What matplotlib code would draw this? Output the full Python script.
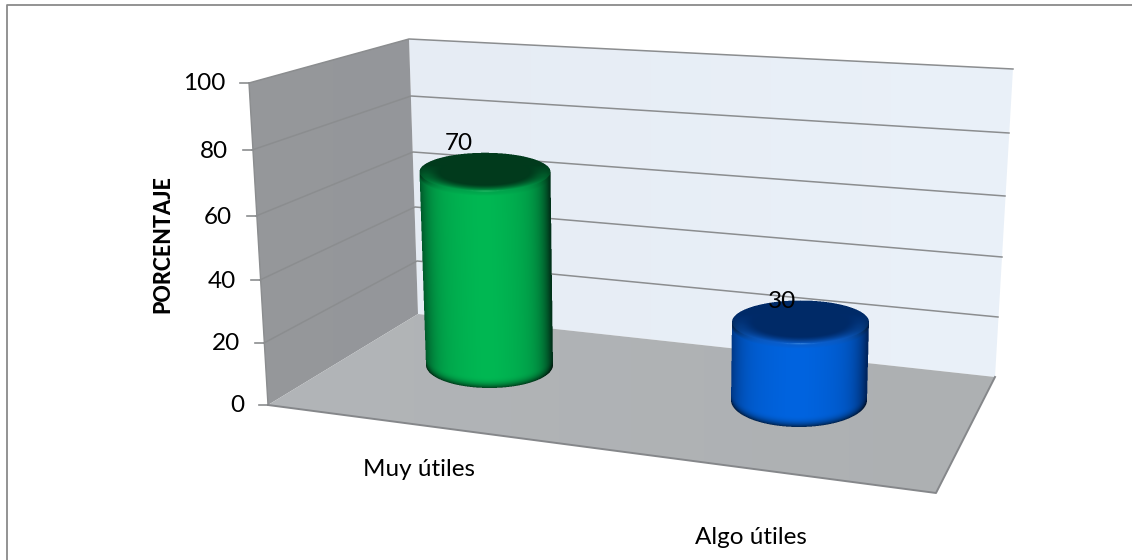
import numpy as np
import matplotlib
matplotlib.use("Agg")
import matplotlib.pyplot as plt
from matplotlib.colors import LinearSegmentedColormap, to_rgb
from matplotlib.patches import Polygon

# ---- data
categories = ["Muy útiles", "Algo útiles"]
values = [70, 30]
axis_ticks = [0, 20, 40, 60, 80, 100]
y_title = "PORCENTAJE"

# ---- calibration of the oblique 3-D frame (pixels)
front_x = [268, 264, 260, 256, 252, 249]
front_y = [405, 343, 280, 216, 150, 83]
back_x = [418, 417, 415, 413, 411, 409]
back_y = [314, 261, 207, 152, 96, 39]
right_x = [995, 998, 1002, 1005, 1009, 1013]
right_y = [377, 317, 257, 196, 133, 69]
corner = (936, 493)

styles = [
    dict(cx_top=485, a_top=65.5, b_top=19, cx_base=489.5, a_base=63.5, b_base=23, base=365, scale=2.76,
         mid="#00b853", edge="#00331a", top="#013a1c", rim="#00a04a", hl="#6fe59c", lab=(-26, -28)),
    dict(cx_top=800.5, a_top=68.5, b_top=21.5, cx_base=799, a_base=68, b_base=27, base=400, scale=2.6,
         mid="#0064e0", edge="#00255f", top="#002a68", rim="#0a5cc8", hl="#7cc4ff", lab=(-18, -21)),
]

fig = plt.figure(figsize=(11.32, 5.6), dpi=100)
ax = fig.add_axes([0, 0, 1, 1])
ax.set_xlim(0, 1132)
ax.set_ylim(560, 0)
ax.axis("off")
FONT = "Lato"

# chart-area border (only top and left visible)
ax.plot([6.5, 6.5, 1132], [560, 5, 5], color="#8a8a8a", lw=1.3, zorder=1)


def gradient_poly(pts, c0, c1, horizontal=True, z=2):
    pts = np.array(pts, float)
    cmap = LinearSegmentedColormap.from_list("g", [c0, c1])
    g = np.linspace(0, 1, 256)
    g = g[None, :] if horizontal else g[:, None]
    im = ax.imshow(g, cmap=cmap, aspect="auto", zorder=z,
                   extent=[pts[:, 0].min(), pts[:, 0].max(), pts[:, 1].max(), pts[:, 1].min()])
    im.set_clip_path(Polygon(pts, transform=ax.transData))


# walls and floor
gradient_poly([(back_x[5], back_y[5]), (right_x[5], right_y[5]), (right_x[0], right_y[0]), (back_x[0], back_y[0])],
              "#e6ecf4", "#eaf1f9")
gradient_poly([(front_x[5], front_y[5]), (back_x[5], back_y[5]), (back_x[0], back_y[0]), (front_x[0], front_y[0])],
              "#96989b", "#94969a")
gradient_poly([(front_x[0], front_y[0]), (back_x[0], back_y[0]), (right_x[0], right_y[0]), corner],
              "#b2b5b8", "#adb0b2")
ax.set_xlim(0, 1132)
ax.set_ylim(560, 0)

GRID = "#8b8d8f"
for i, t in enumerate(axis_ticks):
    if i > 0:
        ax.plot([front_x[i], back_x[i], right_x[i]], [front_y[i], back_y[i], right_y[i]],
                color=GRID, lw=1.1, zorder=3)
    ax.plot([front_x[i] - 9, front_x[i]], [front_y[i], front_y[i]], color=GRID, lw=1.2, zorder=3)
    ax.text(front_x[i] - 24, front_y[i] + 1, str(t), ha="right", va="center",
            fontsize=17.5, family=FONT, color="black", zorder=6)
ax.plot([front_x[5], front_x[0]], [front_y[5], front_y[0]], color=GRID, lw=1, zorder=3)
ax.plot([front_x[0], corner[0], right_x[0]], [front_y[0], corner[1], right_y[0]], color="#85878a", lw=1.4, zorder=3)


def cylinder(value, s):
    SS = 3
    ybase = s["base"]
    ytop = ybase - value * s["scale"]
    bt, bb = s["b_top"], s["b_base"]
    x0 = int(min(s["cx_top"] - s["a_top"], s["cx_base"] - s["a_base"])) - 4
    x1 = int(max(s["cx_top"] + s["a_top"], s["cx_base"] + s["a_base"])) + 5
    y0, y1 = int(ytop - bt - 4), int(ybase + bb + 4)
    xs = (np.arange((x1 - x0) * SS) + 0.5) / SS + x0
    ys = (np.arange((y1 - y0) * SS) + 0.5) / SS + y0
    X, Y = np.meshgrid(xs, ys)
    f = np.clip((Y - ytop) / (ybase - ytop), 0, 1)
    cx = s["cx_top"] * (1 - f) + s["cx_base"] * f
    a = s["a_top"] * (1 - f) + s["a_base"] * f
    U = (X - cx) / a
    root = np.sqrt(np.clip(1 - U ** 2, 0, 1))
    mid, edge, top, rim, hl = [np.array(to_rgb(s[k])) for k in ("mid", "edge", "top", "rim", "hl")]

    # body shading: left edge less dark than the right one
    t = np.clip(np.abs(U + 0.02), 0, 1)
    t = 0.3 * t ** 1.6 + 0.7 * t ** 7
    t = np.where(U < 0, t * 0.8, t)
    rgb = mid[None, None] * (1 - t[..., None]) + edge[None, None] * t[..., None]

    bottom = ybase + bb * root
    inside_body = (np.abs(U) <= 1) & (Y >= ytop) & (Y <= bottom)
    # dark roll-off at the bottom edge
    bot = np.clip((Y - (bottom - 12)) / 12, 0, 1) ** 2.5
    rgb = rgb * (1 - 0.65 * bot[..., None])

    # top bevel below the front rim
    front = ytop + bt * root
    upper = np.clip((front + 5 - Y) / 5, 0, 1) ** 0.7
    rim_t = rim * (1 - 0.75 * (np.abs(U) ** 5))[..., None]
    rgb = rgb * (1 - upper[..., None]) + rim_t * upper[..., None]
    glow = np.exp(-((Y - front + 1) / 1.3) ** 2) * np.exp(-(U / 0.2) ** 2)
    rgb = rgb * (1 - glow[..., None]) + hl * glow[..., None]

    # top face: dark inner disc with a soft lighter rim at sides and front
    Ut = (X - s["cx_top"]) / s["a_top"]
    Vt = (Y - ytop) / bt
    R = np.sqrt(Ut ** 2 + Vt ** 2)
    inside_top = R <= 1
    k = np.clip((R - 0.68) / 0.32, 0, 1) ** 1.4
    k = k * np.clip((Vt + 0.35) / 0.5, 0, 1)
    rim_f = rim * (1 - 0.55 * (np.abs(Ut) ** 5))[..., None]
    face = top * (1 - k[..., None]) + rim_f * k[..., None]
    rgb = np.where(inside_top[..., None], face, rgb)

    alpha = (inside_body | inside_top).astype(float)
    rgba = np.dstack([np.clip(rgb, 0, 1), alpha])
    h, w = alpha.shape
    # premultiplied block-average to pixel resolution
    pm = rgba.copy()
    pm[..., :3] *= pm[..., 3:]
    pm = pm.reshape(h // SS, SS, w // SS, SS, 4).mean(axis=(1, 3))
    aa = pm[..., 3:]
    pm[..., :3] = np.where(aa > 0, pm[..., :3] / np.maximum(aa, 1e-6), 0)
    ax.imshow(pm, extent=[x0, x1, y1, y0], aspect="auto", zorder=5, interpolation="nearest")
    return ytop


for v, s in zip(values, styles):
    yt = cylinder(v, s)
    ax.text(s["cx_top"] + s["lab"][0], yt + s["lab"][1], str(v), ha="center", va="center",
            fontsize=17.5, family=FONT, color="black", zorder=7)

ax.set_xlim(0, 1132)
ax.set_ylim(560, 0)

# category labels
ax.text(419, 470, categories[0], ha="center", va="center", fontsize=17.5, family=FONT, color="black")
ax.text(751, 537, categories[1], ha="center", va="center", fontsize=17.5, family=FONT, color="black")
ax.text(163, 244, y_title, ha="center", va="center", rotation=90, fontsize=15.5, fontweight=900,
        family=FONT, color="black")

fig.savefig("out.png", dpi=100)
